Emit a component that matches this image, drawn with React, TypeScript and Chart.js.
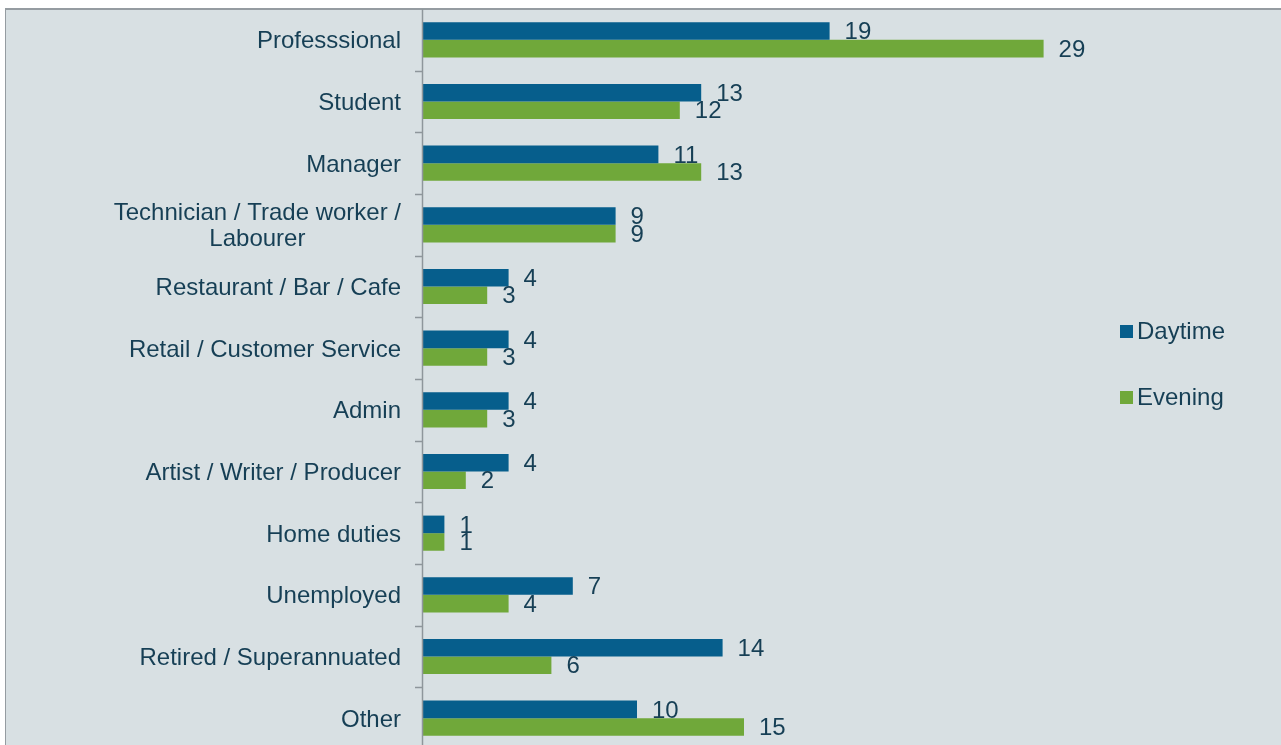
import React, { useEffect, useRef } from "react";
import { Chart, registerables } from "chart.js";

Chart.register(...registerables);

const categories: string[][] = [
  ["Professsional"],
  ["Student"],
  ["Manager"],
  ["Technician / Trade worker /", "Labourer"],
  ["Restaurant / Bar / Cafe"],
  ["Retail / Customer Service"],
  ["Admin"],
  ["Artist / Writer / Producer"],
  ["Home duties"],
  ["Unemployed"],
  ["Retired / Superannuated"],
  ["Other"],
];
const daytime = [19, 13, 11, 9, 4, 4, 4, 4, 1, 7, 14, 10];
const evening = [29, 12, 13, 9, 3, 3, 3, 2, 1, 4, 6, 15];
const seriesNames = ["Daytime", "Evening"];

const BLUE = "#065e8c";
const GREEN = "#70a83a";
const TEXT = "#163f55";
const BG = "#d8e0e3";
const AXIS = "#8e969b";
const FONT = "24px 'Liberation Sans', Arial, sans-serif";

const decorPlugin = {
  id: "decor",
  beforeDraw(chart: any) {
    const ctx = chart.ctx;
    const W = chart.width;
    const H = chart.height;
    ctx.save();
    ctx.fillStyle = "#ffffff";
    ctx.fillRect(0, 0, W, H);
    ctx.fillStyle = BG;
    ctx.fillRect(6, 9, W - 6, H - 9);
    ctx.fillStyle = "#959ca1";
    ctx.fillRect(5, 8, W - 5, 2);
    ctx.fillRect(5, 8, 1, H - 8);
    ctx.restore();
  },
  afterDatasetsDraw(chart: any) {
    const ctx = chart.ctx;
    const area = chart.chartArea;
    const yScale = chart.scales.y;
    const n = categories.length;
    ctx.save();
    // axis line
    ctx.strokeStyle = AXIS;
    ctx.lineWidth = 1.5;
    ctx.beginPath();
    ctx.moveTo(area.left - 0.5, area.top);
    ctx.lineTo(area.left - 0.5, chart.height);
    ctx.stroke();
    // ticks at category boundaries
    const step = (area.bottom - area.top) / n;
    ctx.lineWidth = 1.5;
    for (let i = 1; i < n; i++) {
      const y = Math.round(area.top + step * i) + 0.5;
      ctx.beginPath();
      ctx.moveTo(area.left - 8, y);
      ctx.lineTo(area.left, y);
      ctx.stroke();
    }
    // category labels
    ctx.font = FONT;
    ctx.fillStyle = TEXT;
    ctx.textBaseline = "middle";
    ctx.textAlign = "center";
    const rightEdge = area.left - 22;
    const lineH = 26;
    categories.forEach((lines, i) => {
      const cy = yScale.getPixelForValue(i) + 2;
      const maxW = Math.max(...lines.map((l) => ctx.measureText(l).width));
      const cx = rightEdge - maxW / 2;
      const startY = cy - ((lines.length - 1) * lineH) / 2;
      lines.forEach((l, j) => ctx.fillText(l, cx, startY + j * lineH));
    });
    // data labels
    ctx.textAlign = "left";
    chart.data.datasets.forEach((ds: any, di: number) => {
      const meta = chart.getDatasetMeta(di);
      meta.data.forEach((bar: any, i: number) => {
        ctx.fillText(String(ds.data[i]), bar.x + 15, bar.y + 1.5);
      });
    });
    // legend
    const legend = [
      { name: seriesNames[0], color: BLUE, y: 331 },
      { name: seriesNames[1], color: GREEN, y: 397 },
    ];
    legend.forEach((l) => {
      ctx.fillStyle = l.color;
      ctx.fillRect(1120, l.y - 6, 13, 13);
      ctx.fillStyle = TEXT;
      ctx.fillText(l.name, 1137, l.y + 1);
    });
    ctx.restore();
  },
};

export default function App() {
  const ref = useRef<HTMLCanvasElement>(null);
  useEffect(() => {
    if (!ref.current) return;
    const chart = new Chart(ref.current, {
      type: "bar",
      data: {
        labels: categories.map((c) => c.join(" ")),
        datasets: [
          {
            label: seriesNames[0],
            data: daytime,
            backgroundColor: BLUE,
            categoryPercentage: 0.57,
            barPercentage: 1,
          },
          {
            label: seriesNames[1],
            data: evening,
            backgroundColor: GREEN,
            categoryPercentage: 0.57,
            barPercentage: 1,
          },
        ],
      },
      options: {
        indexAxis: "y",
        responsive: false,
        animation: false,
        devicePixelRatio: 1,
        layout: { padding: { left: 423, right: 216, top: 9, bottom: 11 } },
        plugins: { legend: { display: false }, tooltip: { enabled: false } },
        scales: {
          x: { display: false, min: 0, max: 30 },
          y: { display: false },
        },
      },
      plugins: [decorPlugin],
    } as any);
    return () => chart.destroy();
  }, []);
  return (
    <div
      style={{
        position: "fixed",
        left: 0,
        top: 0,
        width: 1281,
        height: 745,
        overflow: "hidden",
        background: "#fff",
      }}
    >
      <canvas ref={ref} width={1281} height={760} style={{ display: "block" }} />
    </div>
  );
}
